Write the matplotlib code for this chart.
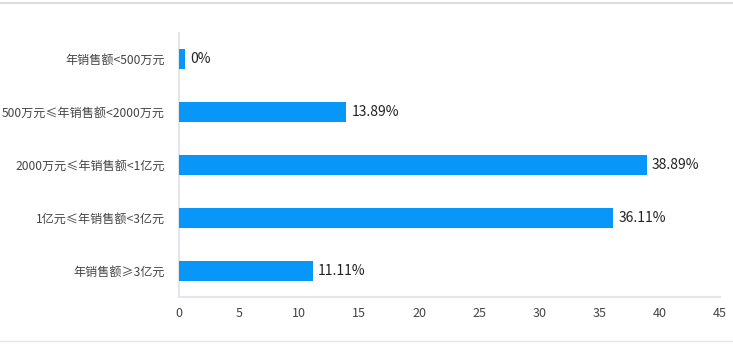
import numpy as np
from matplotlib import pyplot as plt
from matplotlib.lines import Line2D

plt.rcParams['font.family'] = ['Noto Sans CJK SC', 'DejaVu Sans']

# 年销售额分布（从上到下）
categories = ['年销售额<500万元',
              '500万元≤年销售额<2000万元',
              '2000万元≤年销售额<1亿元',
              '1亿元≤年销售额<3亿元',
              '年销售额≥3亿元']
percents = [0, 13.89, 38.89, 36.11, 11.11]
x_ticks = [0, 5, 10, 15, 20, 25, 30, 35, 40, 45]

bar_color = '#0897F9'
axis_color = '#E3E6EA'
min_bar = 0.5  # 0值也画一小段，便于看到

fig = plt.figure(figsize=(7.33, 3.45), dpi=100)
ax = fig.add_axes([0.2442, 0.1377, 0.738, 0.768])

y = np.arange(len(categories))
widths = np.maximum(percents, min_bar)
ax.barh(y, widths, height=0.38, color=bar_color, zorder=3)

for yi, v, w in zip(y, percents, widths):
    label = '0%' if v == 0 else '%.2f%%' % v
    ax.annotate(label, xy=(w, yi), xytext=(4, 0), textcoords='offset points',
                va='center', ha='left', fontsize=10, color='#222222')

ax.set_yticks(y)
ax.set_yticklabels(categories, fontsize=8.7, color='#444444')
ax.set_ylim(len(categories) - 0.5, -0.5)
ax.set_xlim(0, 45)
ax.set_xticks(x_ticks)
ax.set_xticklabels([str(t) for t in x_ticks], fontsize=9, color='#444444')
ax.tick_params(axis='both', length=0)
ax.tick_params(axis='y', pad=10)
ax.tick_params(axis='x', pad=7)

for side in ['top', 'right']:
    ax.spines[side].set_visible(False)
for side in ['left', 'bottom']:
    ax.spines[side].set_color(axis_color)
    ax.spines[side].set_linewidth(1.5)

# 上下分隔线
fig.add_artist(Line2D([0, 1], [1 - 3 / 345, 1 - 3 / 345], color='#DDDDDD', linewidth=1.5))
fig.add_artist(Line2D([0, 1], [1 - 341 / 345, 1 - 341 / 345], color='#E5E5E5', linewidth=1))

plt.savefig('out.png', dpi=100)
